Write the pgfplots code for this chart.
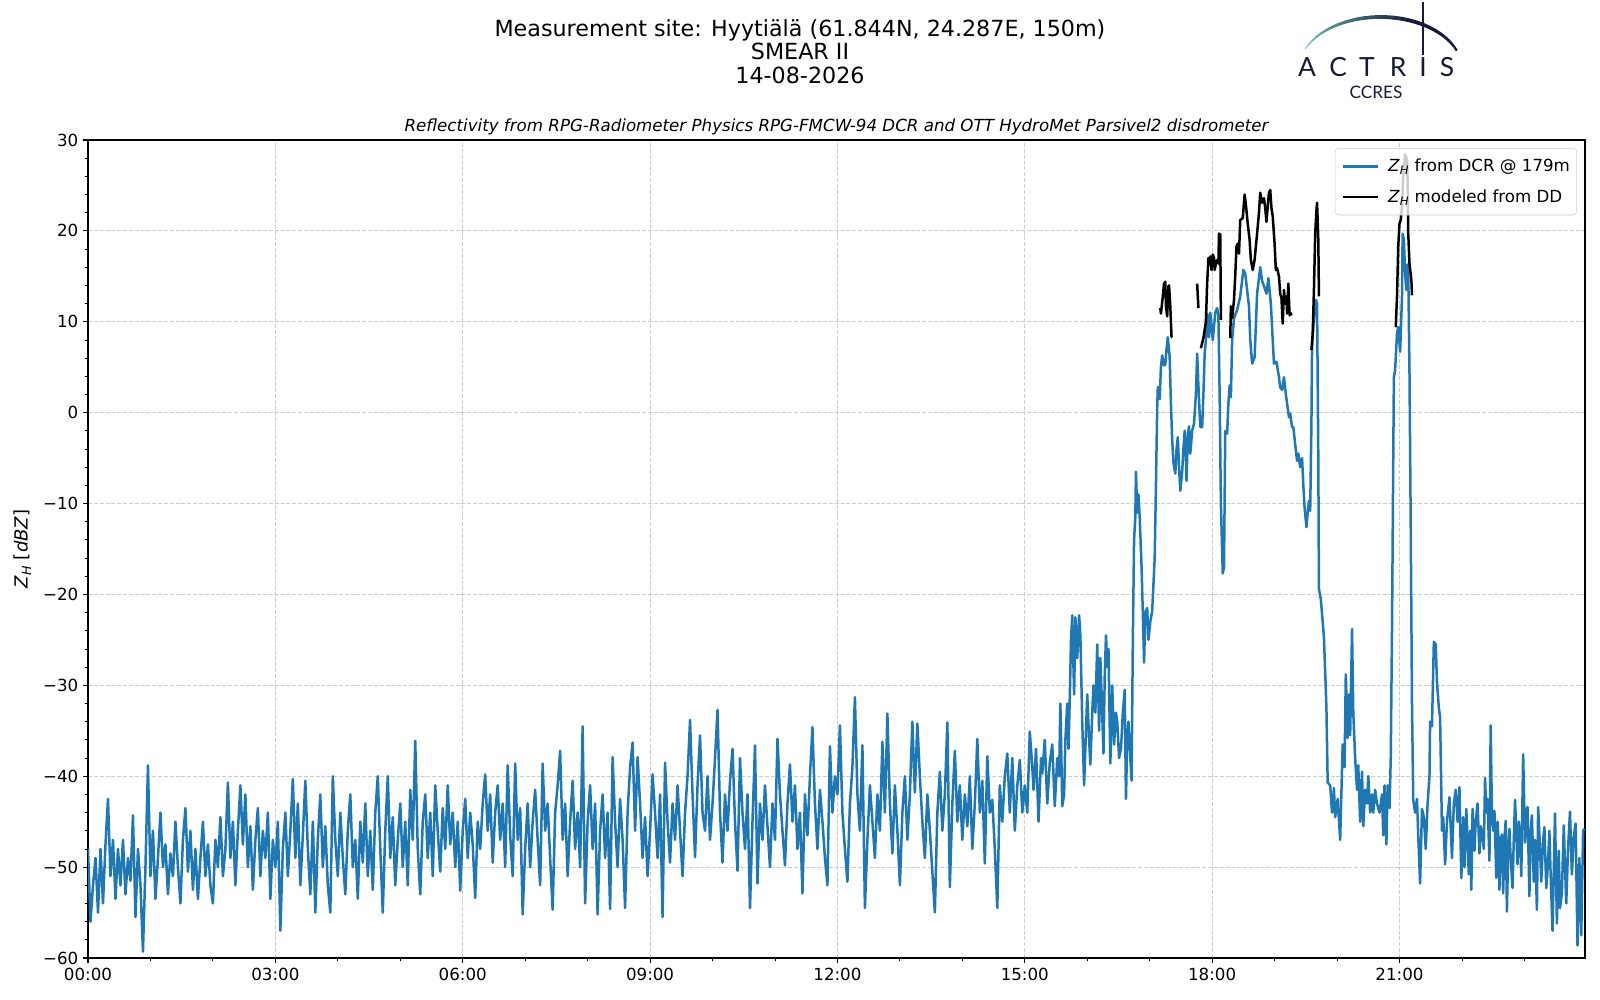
\documentclass[border=0pt]{standalone}
\usepackage{pgfplots}
\pgfplotsset{compat=1.18}
\usepackage{fontspec}
\setmainfont{DejaVu Sans}
\newfontfamily\logofont{Lato}
\definecolor{mplblue}{HTML}{1F77B4}
\definecolor{logonavy}{HTML}{161A3A}
\definecolor{logoteal}{HTML}{6CC5BF}
\newcommand{\ZH}{\textit{Z}\textsubscript{\textit{H}}}
\begin{document}
\begin{tikzpicture}
\path[use as bounding box] (0bp,0bp) rectangle (1152bp,720bp);
\begin{axis}[
  at={(63.36bp,30.24bp)}, anchor=south west,
  scale only axis, width=1077.84bp, height=588.96bp,
  xmin=0, xmax=23.97, ymin=-60, ymax=30,
  xtick={0,3,6,9,12,15,18,21},
  xticklabels={00:00,03:00,06:00,09:00,12:00,15:00,18:00,21:00},
  minor xtick={1,2,4,5,7,8,10,11,13,14,16,17,19,20,22,23},
  ytick={-60,-50,-40,-30,-20,-10,0,10,20,30},
  yticklabels={−60,−50,−40,−30,−20,−10,0,10,20,30},
  minor y tick num=4,
  xtick pos=bottom, ytick pos=left,
  tick align=outside,
  major tick length=3.5bp, minor tick length=2bp,
  every tick/.style={black, line width=0.8bp},
  minor tick style={black, line width=0.6bp},
  axis line style={line width=0.8bp},
  grid=major,
  major grid style={dash pattern=on 2.9bp off 1.3bp, line width=0.6bp, color=black!20},
  tick label style={font=\fontsize{12bp}{14bp}\selectfont},
  unbounded coords=jump,
  legend cell align=left,
  legend style={at={(1,1)}, anchor=north east, xshift=-5.8bp, yshift=-5.8bp,
    fill=white, fill opacity=0.8, text opacity=1, draw=black!20, draw opacity=1,
    rounded corners=2.5bp, font=\fontsize{12bp}{14bp}\selectfont,
    inner xsep=4.8bp, inner ysep=6bp, row sep=8bp,
    nodes={inner sep=0pt, minimum height=14bp}},
  legend image code/.code={\draw[#1, line width=1.8bp] (0bp,0bp) -- (25bp,0bp); \path (31.5bp,0bp);},
]
\addplot[mplblue, line width=1.8bp, line join=round] coordinates {
(0,-48)(0.04,-56)(0.08,-52)(0.12,-49)(0.16,-55)(0.2,-48)(0.24,-54)(0.28,-47.5)(0.32,-42.5)(0.36,-51)(0.4,-47)(0.44,-53.5)(0.48,-48)(0.52,-52)(0.56,-47)(0.6,-53)(0.64,-49)(0.68,-51.5)(0.72,-44.3)(0.76,-55.5)(0.8,-48)(0.84,-52)(0.88,-59.3)(0.92,-50)(0.96,-38.8)
(1,-51)(1.04,-46)(1.08,-53.5)(1.12,-49)(1.16,-44)(1.2,-50)(1.24,-47.5)(1.28,-53)(1.32,-48.5)(1.36,-51)(1.4,-45)(1.44,-50)(1.48,-54)(1.52,-47)(1.56,-43.5)(1.6,-50.5)(1.64,-46)(1.68,-52.5)(1.72,-48)(1.76,-53.5)(1.8,-49)(1.84,-45)(1.88,-51)(1.92,-47.5)(1.96,-52)
(2,-54)(2.04,-47)(2.08,-50)(2.12,-44.5)(2.16,-51)(2.2,-48)(2.24,-40.7)(2.28,-49)(2.32,-45)(2.36,-52)(2.4,-46)(2.44,-41)(2.48,-47.5)(2.52,-42)(2.56,-50)(2.6,-45.5)(2.64,-52.5)(2.68,-47)(2.72,-43.5)(2.76,-51)(2.8,-46)(2.84,-49)(2.88,-44)(2.92,-53.5)(2.96,-47)
(3,-50)(3.04,-45)(3.08,-57)(3.12,-48)(3.16,-44)(3.2,-51)(3.24,-46)(3.28,-40.3)(3.32,-49)(3.36,-43)(3.4,-52)(3.44,-46.5)(3.48,-40.5)(3.52,-48)(3.56,-53)(3.6,-45)(3.64,-55)(3.68,-47)(3.72,-42)(3.76,-50)(3.8,-45.5)(3.84,-52)(3.88,-55)(3.92,-40)(3.96,-47)
(4,-51)(4.04,-44)(4.08,-49)(4.12,-53)(4.16,-46)(4.2,-42)(4.24,-50)(4.28,-47)(4.32,-53.5)(4.36,-45)(4.4,-49.5)(4.44,-43)(4.48,-51)(4.52,-46)(4.56,-52.5)(4.6,-44)(4.64,-40)(4.68,-48)(4.72,-55)(4.76,-46)(4.8,-40)(4.84,-49)(4.88,-44.5)(4.92,-52)(4.96,-47)
(5,-43)(5.04,-50)(5.08,-45)(5.12,-52)(5.16,-41.5)(5.2,-47)(5.24,-36.1)(5.28,-48)(5.32,-53)(5.36,-45)(5.4,-42)(5.44,-49)(5.48,-44)(5.52,-51)(5.56,-41)(5.6,-46)(5.64,-50.5)(5.68,-43.5)(5.72,-48)(5.76,-41)(5.8,-47.5)(5.84,-44)(5.88,-50)(5.92,-45)(5.96,-52.6)
(6,-46)(6.04,-42.5)(6.08,-49)(6.12,-44)(6.16,-47.5)(6.2,-53.4)(6.24,-45)(6.28,-48)(6.32,-43)(6.36,-39.8)(6.4,-46)(6.44,-42)(6.48,-49.5)(6.52,-44)(6.56,-41)(6.6,-47)(6.64,-43)(6.68,-50)(6.72,-38.8)(6.76,-46.5)(6.8,-51)(6.84,-38.6)(6.88,-47)(6.92,-43.5)(6.96,-55.2)
(7,-48)(7.04,-43)(7.08,-50)(7.12,-45)(7.16,-41.5)(7.2,-47)(7.24,-52)(7.28,-38.6)(7.32,-46)(7.36,-43)(7.4,-49)(7.44,-54.7)(7.48,-44)(7.52,-41)(7.56,-37.2)(7.6,-47)(7.64,-43)(7.68,-51)(7.72,-45)(7.76,-40.5)(7.8,-48)(7.84,-44)(7.88,-50)(7.92,-34.5)(7.96,-54)
(8,-45)(8.04,-41)(8.08,-48)(8.12,-43)(8.16,-55.2)(8.2,-46)(8.24,-42)(8.28,-49)(8.32,-44)(8.36,-54.6)(8.4,-37.9)(8.44,-45)(8.48,-50)(8.52,-42.5)(8.56,-47)(8.6,-54.5)(8.64,-44)(8.68,-39)(8.72,-36.3)(8.76,-46)(8.8,-37.9)(8.84,-43)(8.88,-49)(8.92,-44.5)(8.96,-51)
(9,-46)(9.04,-39.8)(9.08,-44)(9.12,-49)(9.16,-42)(9.2,-55.5)(9.24,-38.5)(9.28,-45)(9.32,-49.5)(9.36,-43)(9.4,-47)(9.44,-41)(9.48,-46)(9.52,-51)(9.56,-44)(9.6,-40)(9.64,-33.8)(9.68,-42)(9.72,-48.9)(9.76,-41)(9.8,-35.5)(9.84,-44)(9.88,-46)(9.92,-40)(9.96,-47)
(10,-43)(10.04,-38)(10.08,-32.7)(10.12,-44)(10.16,-49.5)(10.2,-42)(10.24,-46)(10.28,-40.5)(10.32,-37)(10.36,-45)(10.4,-50.4)(10.44,-38)(10.48,-44)(10.52,-48)(10.56,-42)(10.6,-54.5)(10.64,-45)(10.68,-36.6)(10.72,-51.8)(10.76,-43)(10.8,-47)(10.84,-41)(10.88,-45.5)(10.92,-50)(10.96,-43)
(11,-47)(11.04,-35.9)(11.08,-42)(11.12,-46)(11.16,-49.8)(11.2,-43)(11.24,-38.7)(11.28,-45)(11.32,-41)(11.36,-48)(11.4,-44)(11.44,-52.9)(11.48,-42)(11.52,-46.5)(11.56,-40)(11.6,-34.6)(11.64,-43)(11.68,-48)(11.72,-41.5)(11.76,-45)(11.8,-49)(11.84,-52)(11.88,-36.7)(11.92,-44)(11.96,-40)
(12,-42)(12.04,-34.4)(12.08,-44)(12.12,-48)(12.16,-51.6)(12.2,-43)(12.24,-39)(12.28,-31.3)(12.32,-42)(12.36,-46)(12.4,-36.6)(12.44,-54.5)(12.48,-47)(12.52,-41)(12.56,-45)(12.6,-49)(12.64,-42)(12.68,-46)(12.72,-36.2)(12.76,-44)(12.8,-33.1)(12.84,-43)(12.88,-48.5)(12.92,-41)(12.96,-46)
(13,-52)(13.04,-44)(13.08,-40)(13.12,-47)(13.16,-42)(13.2,-34)(13.24,-41.8)(13.28,-34.2)(13.32,-40)(13.36,-45)(13.4,-49)(13.44,-42)(13.48,-46)(13.52,-50.5)(13.56,-55)(13.6,-44)(13.64,-39.5)(13.68,-46)(13.72,-42)(13.76,-34.1)(13.8,-52.2)(13.84,-43)(13.88,-37.2)(13.92,-45)(13.96,-41)
(14,-47)(14.04,-42)(14.08,-45.5)(14.12,-40)(14.16,-48)(14.2,-43)(14.24,-35.9)(14.28,-44)(14.32,-40.5)(14.36,-49.6)(14.4,-37.8)(14.44,-44)(14.48,-42.6)(14.52,-48)(14.56,-54.5)(14.6,-41)(14.64,-45)(14.68,-40)(14.72,-37.5)(14.76,-44)(14.8,-38)(14.84,-46)(14.88,-41)(14.92,-38.2)(14.96,-44)
(15,-41)(15.04,-44)(15.08,-35.1)(15.12,-39)(15.14,-41.5)(15.18,-37)(15.22,-45)(15.26,-38)(15.28,-39.7)(15.32,-36)(15.36,-43)(15.4,-38.5)(15.44,-36.5)(15.48,-43.3)(15.52,-38)(15.55,-40)(15.57,-32)(15.6,-43.3)(15.63,-42)(15.65,-36)(15.68,-32)(15.7,-37)(15.72,-31.5)(15.74,-25)(15.76,-22.3)(15.79,-31)(15.81,-22.5)(15.84,-27)(15.87,-22.3)(15.89,-24.5)(15.92,-34)(15.95,-41)(15.98,-35)
(16,-31)(16.03,-36)(16.05,-38.7)(16.08,-33)(16.1,-30)(16.13,-33)(16.16,-25.5)(16.19,-35)(16.21,-27)(16.23,-31)(16.26,-37.5)(16.28,-29)(16.3,-24.5)(16.32,-28)(16.34,-26)(16.37,-38.6)(16.4,-30)(16.43,-36.5)(16.46,-33)(16.48,-34)(16.51,-38)(16.54,-37)(16.57,-33)(16.6,-30.5)(16.62,-42.5)(16.64,-36)(16.66,-34)(16.69,-38)(16.71,-40.5)(16.73,-25)(16.75,-14)(16.77,-11.5)(16.78,-6.5)(16.8,-11)(16.82,-9)(16.84,-11.5)(16.87,-17)(16.89,-22)(16.91,-27.5)(16.93,-22)(16.96,-21.5)(16.98,-25)
(17.01,-23)(17.04,-21.8)(17.08,-16)(17.1,-8)(17.12,0.5)(17.13,2.8)(17.16,1.5)(17.18,5)(17.2,6.3)(17.23,5.2)(17.25,5.3)(17.27,7)(17.29,8.3)(17.32,6.1)(17.34,1)(17.36,-3)(17.38,-5.5)(17.41,-6.7)(17.43,-4)(17.45,-2.7)(17.47,-6)(17.49,-8.6)(17.52,-6.5)(17.54,-4)(17.56,-2)(17.58,-5)(17.59,-7.5)(17.61,-2.5)(17.63,-1.5)(17.65,-4.5)(17.68,-2)(17.71,-1.2)(17.74,2)(17.76,6.5)(17.78,3)(17.81,-1.6)(17.84,-1.6)(17.86,2)(17.88,6.5)(17.9,8)(17.92,10.9)(17.95,8.3)(17.97,11)
(18.01,8)(18.05,11)(18.08,11.5)(18.1,10.7)(18.12,2)(18.14,-10)(18.17,-17.7)(18.19,-17)(18.21,-2)(18.24,-2.3)(18.26,1)(18.28,3)(18.3,1.7)(18.32,8)(18.35,10.4)(18.4,11.3)(18.45,12.8)(18.5,15.7)(18.53,15.3)(18.56,13.5)(18.59,11.7)(18.61,8)(18.64,5.4)(18.68,6.1)(18.72,13.1)(18.77,16)(18.8,14.5)(18.83,13.9)(18.87,13.1)(18.9,14.8)(18.94,12)(18.97,8)(18.99,5.4)
(19.03,5.6)(19.07,3.9)(19.09,2.8)(19.12,2.5)(19.15,3.9)(19.18,2)(19.2,1)(19.23,-0.5)(19.25,-0.1)(19.28,-1.6)(19.3,-1.6)(19.33,-3.5)(19.36,-5.3)(19.38,-4.5)(19.41,-6)(19.44,-5)(19.46,-8)(19.48,-10.4)(19.51,-12.6)(19.53,-11)(19.55,-9.7)(19.57,-10.8)(19.59,-1)(19.6,7.2)(19.62,9.5)(19.66,12.4)(19.68,12)(19.7,-5)(19.71,-19.4)(19.74,-20.5)(19.79,-24.7)(19.83,-32.5)(19.85,-40.7)(19.89,-41)(19.92,-44)(19.95,-41.3)(19.97,-44.5)
(20.01,-42.5)(20.05,-47)(20.09,-36.5)(20.12,-39)(20.14,-28.8)(20.17,-35.8)(20.19,-31)(20.21,-35.5)(20.24,-23.8)(20.26,-33)(20.29,-38)(20.32,-41.5)(20.34,-38.8)(20.37,-45)(20.4,-39.5)(20.42,-45.5)(20.45,-41.5)(20.48,-43)(20.5,-40)(20.53,-44)(20.56,-42)(20.58,-44)(20.61,-41.5)(20.64,-43)(20.68,-44)(20.72,-42)(20.74,-46.5)(20.76,-41)(20.79,-47.5)(20.81,-41)(20.84,-43.5)(20.86,-38)(20.88,-24)(20.9,-5)(20.91,3.9)(20.93,4.7)(20.96,8.7)(20.98,9.4)
(21.01,6.7)(21.04,12.8)(21.05,19.7)(21.07,19)(21.09,15.3)(21.11,13.5)(21.13,16.3)(21.14,15.7)(21.16,4.3)(21.18,-12.7)(21.2,-32)(21.22,-42.6)(21.25,-44)(21.28,-42.5)(21.3,-46.5)(21.33,-51.8)(21.36,-43.6)(21.39,-44.5)(21.42,-48)(21.45,-43)(21.48,-40)(21.49,-34)(21.52,-34.5)(21.55,-25.2)(21.58,-25.5)(21.6,-29.6)(21.63,-32.5)(21.65,-33.5)(21.68,-46)(21.7,-44.5)(21.73,-49.7)(21.76,-45)(21.8,-42.3)(21.84,-49)(21.87,-43)(21.9,-41.5)(21.93,-45)(21.96,-41.2)(21.99,-51.2)
(22.02,-44.5)(22.04,-50)(22.07,-43.6)(22.11,-50.8)(22.13,-46)(22.15,-52.5)(22.17,-43.6)(22.2,-48.2)(22.22,-45)(22.25,-43)(22.28,-48.5)(22.3,-45.5)(22.32,-46.2)(22.35,-48)(22.37,-40.2)(22.39,-44)(22.41,-42.5)(22.44,-49.3)(22.46,-34.4)(22.48,-44.1)(22.5,-46)(22.52,-43.8)(22.55,-51.2)(22.57,-45)(22.59,-47.7)(22.6,-52.5)(22.62,-47)(22.64,-46.4)(22.66,-52.9)(22.68,-47)(22.7,-44.9)(22.72,-54.9)(22.74,-48)(22.76,-45.8)(22.78,-49)(22.81,-52.3)(22.83,-47)(22.85,-42.6)(22.87,-46)(22.89,-49.7)(22.91,-45)(22.93,-46.4)(22.95,-51)(22.98,-37.6)
(23.01,-47.3)(23.03,-44)(23.05,-43.4)(23.08,-53.2)(23.1,-46)(23.12,-44.3)(23.15,-51.6)(23.17,-47)(23.2,-54.7)(23.22,-43.4)(23.25,-48)(23.27,-51.6)(23.3,-47)(23.32,-45.6)(23.35,-52.3)(23.38,-49.3)(23.4,-46)(23.42,-50.8)(23.45,-57)(23.49,-44.1)(23.52,-56.2)(23.55,-48.2)(23.57,-54.5)(23.6,-52.9)(23.63,-45.4)(23.67,-54)(23.7,-47.8)(23.73,-43.9)(23.76,-50.8)(23.79,-46.7)(23.82,-45.2)(23.85,-58.6)(23.88,-49)(23.91,-57.5)(23.94,-46)(23.96,-45.8)
};
\addlegendentry{\ZH{} from DCR @ 179m}
\addplot[black, line width=1.8bp, line join=round] coordinates {
(17.17,11.5)(17.18,10.9)(17.21,12.8)(17.23,14.2)(17.25,14.4)(17.26,11.7)(17.28,10.6)(17.3,13.9)(17.31,14)(17.33,11.7)(17.35,8.3)(17.36,8.3)
(17.5,nan)
(17.76,14.2)(17.78,11.5)
(17.8,nan)
(17.82,7.1)(17.86,8.2)(17.9,10)(17.92,14.2)(17.94,17)(17.96,16.4)(17.97,17.2)(17.99,15.7)(18.01,17.4)(18.03,17)(18.04,15.7)(18.06,16.4)(18.08,16.8)(18.1,16.4)(18.11,19.7)(18.13,19.6)(18.14,10.2)
(18.2,nan)
(18.29,8.2)(18.3,11.7)(18.32,10.4)(18.35,12.4)(18.37,15.1)(18.39,18.3)(18.41,18.6)(18.43,17.5)(18.45,21.2)(18.49,21.4)(18.52,24)(18.54,22.9)(18.57,20.8)(18.6,19)(18.62,16.8)(18.65,15.7)(18.68,16.8)(18.71,19)(18.75,22)(18.77,24.2)(18.8,23.1)(18.83,23.6)(18.85,22.5)(18.87,21)(18.89,22.7)(18.91,24.2)(18.93,24.5)(18.95,22.5)(18.97,21.6)(19,18.6)(19.02,15.7)(19.04,15.9)(19.07,15)(19.09,13.1)(19.11,12.6)(19.13,9.8)(19.15,13.5)(19.17,12)(19.19,12.8)(19.2,10.9)(19.22,14.2)(19.24,10.7)(19.25,11)(19.27,10.7)
(19.4,nan)
(19.59,6.9)(19.61,8.7)(19.63,13.5)(19.65,19.7)(19.67,22.3)(19.68,23.1)(19.7,19)(19.71,12.8)
(20.5,nan)
(20.94,9.4)(20.96,12.8)(20.98,18.3)(21,20.8)(21.02,21.2)(21.04,22.7)(21.06,26)(21.09,28.4)(21.12,27.8)(21.13,25.6)(21.14,19.7)(21.16,16.4)(21.19,14.6)(21.2,12.9)
};
\addlegendentry{\ZH{} modeled from DD}
\end{axis}
% titles
\node[anchor=base, font=\fontsize{16bp}{19bp}\selectfont] at (576bp,693.6bp) {Measurement site: Hyytiälä (61.844N, 24.287E, 150m)};
\node[anchor=base, font=\fontsize{16bp}{19bp}\selectfont] at (576bp,677.5bp) {SMEAR II};
\node[anchor=base, font=\fontsize{16bp}{19bp}\selectfont] at (576bp,660.2bp) {14-08-2026};
\node[anchor=base, font=\fontsize{12bp}{14bp}\selectfont\itshape] at (602.3bp,625bp) {Reflectivity from RPG-Radiometer Physics RPG-FMCW-94 DCR and OTT HydroMet Parsivel2 disdrometer};
\node[rotate=90, font=\fontsize{13bp}{15bp}\selectfont] at (16.2bp,324.7bp) {\ZH{} [\textit{dBZ}]};
% logo
\foreach \i in {0,...,26} {
  \pgfmathsetmacro\a{156.7-\i*5}
  \pgfmathsetmacro\b{\a-5.2}
  \pgfmathtruncatemacro\p{min(100,\i*100/17)}
  \pgfmathsetmacro\w{0.8+2.0*sin(\i*180/30)}
  \draw[logonavy!\p!logoteal, line width=\w pt, line cap=butt]
    ([shift={(\a:59.04bp and 38.16bp)}]993.96bp,669.6bp)
    arc[start angle=\a, end angle=\b, x radius=59.04bp, y radius=38.16bp];
}
\draw[logonavy, line width=1.5bp] (1024.6bp,680.4bp) -- (1024.6bp,718.6bp);
\foreach \ch/\xx in {A/941.0, C/963.4, T/984.2, R/1006.6, I/1024.6, S/1041.8} {
  \node[anchor=base, inner sep=0pt, text=logonavy, font=\logofont\fontsize{19bp}{21bp}\selectfont] at (\xx bp,664.6bp) {\ch};
}
\node[anchor=base, inner sep=0pt, text=logonavy, font=\logofont\fontsize{12.4bp}{14bp}\selectfont] at (990.7bp,649.2bp) {CCRES};
\end{tikzpicture}
\end{document}
